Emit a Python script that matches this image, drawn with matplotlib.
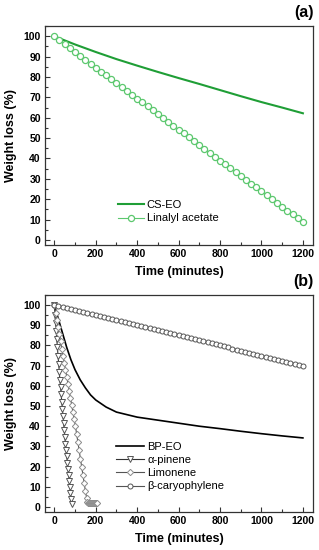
import matplotlib
matplotlib.use("Agg")
import matplotlib.pyplot as plt
from matplotlib.ticker import MultipleLocator

plt.rcParams['font.family'] = ['Liberation Sans', 'DejaVu Sans']

# panel (a)
cs_t = [0, 100, 200, 300, 400, 500, 600, 700, 800, 900, 1000, 1100, 1200]
cs_w = [100, 96.0, 92.3, 88.8, 85.6, 82.5, 79.5, 76.6, 73.6, 70.6, 67.7, 65.0, 62.2]

lin_t = [0, 25, 50, 75, 100, 125, 150, 175, 200, 225, 250, 275, 300, 325, 350, 375,
         400, 425, 450, 475, 500, 525, 550, 575, 600, 625, 650, 675, 700, 725, 750,
         775, 800, 825, 850, 875, 900, 925, 950, 975, 1000, 1025, 1050, 1075, 1100,
         1125, 1150, 1175, 1200]
lin_w = [100, 98.1, 96.2, 94.3, 92.4, 90.4, 88.5, 86.6, 84.6, 82.7, 80.8, 78.9, 77.0,
         75.1, 73.2, 71.3, 69.4, 67.5, 65.6, 63.7, 61.8, 59.9, 58.0, 56.1, 54.2, 52.3,
         50.4, 48.5, 46.6, 44.7, 42.8, 40.9, 39.0, 37.1, 35.2, 33.3, 31.4, 29.5, 27.6,
         25.8, 23.9, 22.0, 20.1, 18.2, 16.3, 14.4, 12.6, 10.8, 9.0]

# panel (b)
bp_t = [0, 10, 20, 30, 40, 50, 60, 70, 80, 90, 100, 125, 150, 175, 200, 250, 300,
        400, 500, 600, 700, 800, 900, 1000, 1100, 1200]
bp_w = [100, 96.5, 93, 89.5, 86, 82.5, 79, 76, 73, 70.5, 68, 63, 59, 55.5, 53, 49.5,
        47, 44.5, 43, 41.5, 40, 38.8, 37.5, 36.3, 35.2, 34.2]

pin_t = [0, 3, 6, 9, 12, 15, 18, 21, 24, 27, 30, 33, 36, 39, 42, 45, 48, 51, 54, 57,
         60, 63, 66, 69, 72, 75, 78, 81, 84]
pin_w = [100, 95, 91, 87, 83, 79, 75, 71, 67, 63, 59.5, 56, 52, 48.5, 45, 41.5, 38,
         34.5, 31, 28, 25, 22, 19, 16, 13, 10, 7, 4, 1.5]

lim_t = [0, 6, 12, 18, 24, 30, 36, 42, 48, 54, 60, 66, 72, 78, 84, 90, 96, 102, 108,
         114, 120, 126, 132, 138, 144, 150, 156, 160, 163, 166, 170, 175, 180, 185,
         190, 195, 200, 205]
lim_w = [100, 96, 92.5, 89, 85.5, 82, 78.5, 75, 71.5, 68, 64.5, 61, 57.5, 54, 50.5,
         47, 43.5, 40, 36, 32, 28, 24, 20, 16, 12, 8, 4.5, 2.5, 2.2, 2, 2, 2, 2, 2,
         2, 2, 2, 2]

car_t = [0, 20, 40, 60, 80, 100, 120, 140, 160, 180, 200, 220, 240, 260, 280, 300,
         320, 340, 360, 380, 400, 420, 440, 460, 480, 500, 520, 540, 560, 580, 600,
         620, 640, 660, 680, 700, 720, 740, 760, 780, 800, 820, 840, 860, 880, 900,
         920, 940, 960, 980, 1000, 1020, 1040, 1060, 1080, 1100, 1120, 1140, 1160,
         1180, 1200]
car_w = [100, 99.5, 99.0, 98.5, 98.0, 97.5, 97.0, 96.5, 96.0, 95.5, 95.0, 94.5, 94.0,
         93.5, 93.0, 92.5, 92.0, 91.5, 91.0, 90.5, 90.0, 89.5, 89.0, 88.5, 88.0, 87.5,
         87.0, 86.5, 86.0, 85.5, 85.0, 84.5, 84.0, 83.5, 83.0, 82.5, 82.0, 81.5, 81.0,
         80.5, 80.0, 79.5, 79.0, 78.5, 78.0, 77.5, 77.0, 76.5, 76.0, 75.5, 75.0, 74.5,
         74.0, 73.5, 73.0, 72.5, 72.0, 71.5, 71.0, 70.5, 70.0]

fig = plt.figure(figsize=(3.19, 5.5), dpi=100)
ax1 = fig.add_axes([0.141, 0.5545, 0.841, 0.398])
ax2 = fig.add_axes([0.141, 0.0691, 0.841, 0.3945])

ax1.plot(cs_t, cs_w, color='#1f9e36', lw=1.5, label='CS-EO')
ax1.plot(lin_t, lin_w, color='#5cc86e', lw=0.8, marker='o', ms=4.4,
         mfc='white', mec='#5cc86e', mew=0.9, label='Linalyl acetate')

ax2.plot(bp_t, bp_w, color='black', lw=1.2, label='BP-EO')
ax2.plot(pin_t, pin_w, color='#333333', lw=0.8, marker='v', ms=4,
         mfc='white', mec='#555555', mew=0.7, label='α-pinene')
ax2.plot(lim_t, lim_w, color='#555555', lw=0.8, marker='D', ms=3.2,
         mfc='white', mec='#8c8c8c', mew=0.7, label='Limonene')
ax2.plot(car_t, car_w, color='#555555', lw=0.8, marker='o', ms=3.6,
         mfc='white', mec='#555555', mew=0.7, label='β-caryophylene')

for ax in (ax1, ax2):
    ax.set_xlim(-45, 1250)
    ax.set_ylim(-2.5, 105)
    ax.xaxis.set_major_locator(MultipleLocator(200))
    ax.xaxis.set_minor_locator(MultipleLocator(100))
    ax.yaxis.set_major_locator(MultipleLocator(10))
    ax.yaxis.set_minor_locator(MultipleLocator(5))
    ax.tick_params(which='both', direction='in', top=False, right=False,
                   color='#333333', width=0.8)
    ax.tick_params(which='major', length=3.5, labelsize=7.5, pad=3)
    ax.tick_params(which='minor', length=2)
    for lab in ax.get_xticklabels() + ax.get_yticklabels():
        lab.set_fontweight('bold')
    for sp in ax.spines.values():
        sp.set_color('#333333')
        sp.set_linewidth(0.9)
    ax.set_xlabel('Time (minutes)', fontsize=9, fontweight='bold', labelpad=5)
    ax.set_ylabel('Weight loss (%)', fontsize=9, fontweight='bold', labelpad=5)

ax1.legend(loc='upper left', bbox_to_anchor=(0.272, 0.205), frameon=False,
           fontsize=8, borderpad=0, borderaxespad=0, handlelength=2.3,
           handletextpad=0.3, labelspacing=0.3, numpoints=1)
ax2.legend(loc='upper left', bbox_to_anchor=(0.265, 0.322), frameon=False,
           fontsize=8, borderpad=0, borderaxespad=0, handlelength=2.5,
           handletextpad=0.3, labelspacing=0.28, numpoints=1)

fig.text(0.982, 0.977, '(a)', ha='right', va='center', fontsize=11.5, fontweight='bold')
fig.text(0.982, 0.489, '(b)', ha='right', va='center', fontsize=11.5, fontweight='bold')

fig.savefig('out.png', dpi=100)
